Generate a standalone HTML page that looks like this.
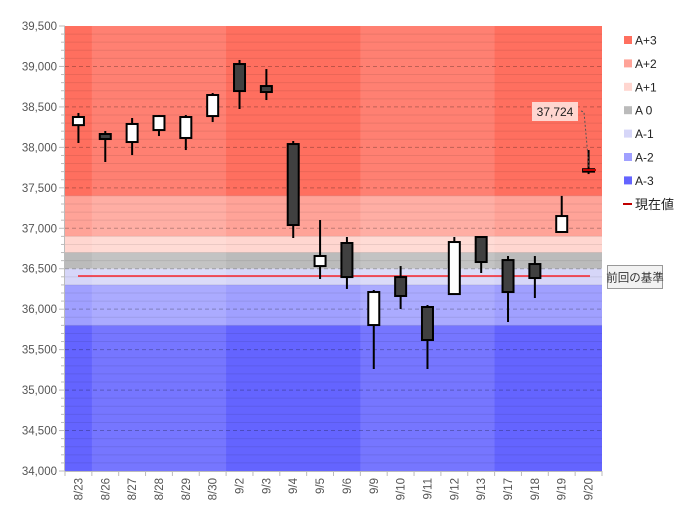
<!DOCTYPE html>
<html><head><meta charset="utf-8"><style>
body{margin:0;background:#fff;font-family:"Liberation Sans","Noto Sans CJK JP",sans-serif;}
svg{display:block}
</style></head><body>
<svg id="s" width="696" height="519" xmlns="http://www.w3.org/2000/svg" font-family="Liberation Sans, Noto Sans CJK JP, sans-serif"></svg>
<script>
const s=document.getElementById('s');
let h='';
const L=65,R=602,T=26,B=471;
const y=v=>T+(39500-v)*(B-T)/5500;
const cw=(R-L)/20;
const bands=[[39500,37400,'#ff6f5f'],[37400,36900,'#ffa398'],[36900,36700,'#ffd6d0'],[36700,36500,'#bbbbbb'],[36500,36300,'#d6d6f8'],[36300,35800,'#a0a0ff'],[35800,34000,'#6464ff']];
bands.forEach(b=>{h+=`<rect x="${L}" y="${y(b[0])}" width="${R-L}" height="${y(b[1])-y(b[0])}" fill="${b[2]}"/>`;});
[[1,6],[11,16]].forEach(g=>{h+=`<rect x="${L+g[0]*cw}" y="${T}" width="${(g[1]-g[0])*cw}" height="${B-T}" fill="#fff" opacity="0.12"/>`;});
for(let v=34100;v<39500;v+=100){if(v%500)h+=`<line x1="${L}" x2="${R}" y1="${y(v)}" y2="${y(v)}" stroke="#000" stroke-opacity="0.08"/>`;}
for(let v=34500;v<39500;v+=500){h+=`<line x1="${L}" x2="${R}" y1="${y(v)}" y2="${y(v)}" stroke="#000" stroke-opacity="0.25" stroke-dasharray="4,3"/>`;}
h+=`<line x1="${L-0.5}" x2="${L-0.5}" y1="${T}" y2="${B}" stroke="#bbb"/><line x1="${L}" x2="${R}" y1="${B+0.5}" y2="${B+0.5}" stroke="#bbb"/>`;
for(let v=34000;v<=39500;v+=100){h+=`<line x1="${L-(v%500?4:6)}" x2="${L}" y1="${y(v)}" y2="${y(v)}" stroke="#bbb"/>`;}
for(let v=34000;v<=39500;v+=500){h+=`<text x="57" y="${y(v)+4}" font-size="11.5" fill="#555" text-anchor="end">${v.toLocaleString('en-US')}</text>`;}
const d=['8/23','8/26','8/27','8/28','8/29','8/30','9/2','9/3','9/4','9/5','9/6','9/9','9/10','9/11','9/12','9/13','9/17','9/18','9/19','9/20'];
for(let i=0;i<=20;i++){h+=`<line x1="${L+i*cw}" x2="${L+i*cw}" y1="${B}" y2="${B+5}" stroke="#bbb"/>`;}
d.forEach((t,i)=>{const cx=L+cw*(i+0.5)+4;h+=`<text transform="translate(${cx},478) rotate(-90)" font-size="11.5" fill="#555" text-anchor="end">${t}</text>`;});
h+=`<line x1="78" x2="590" y1="276" y2="276" stroke="#ff0000" stroke-width="1.3"/>`;
const c=[[38275,38375,38425,38054],[38165,38103,38202,37819],[38066,38289,38363,37905],[38214,38387,38400,38140],[38116,38375,38400,37967],[38387,38647,38672,38313],[39030,38696,39080,38474],[38758,38684,38968,38585],[38041,37040,38078,36880],[36533,36657,37102,36373],[36818,36397,36892,36250],[35804,36212,36237,35260],[36397,36163,36533,36002],[36027,35619,36052,35260],[36187,36830,36892,36187],[36892,36583,36892,36447],[36607,36212,36657,35841],[36558,36385,36657,36138],[36954,37151,37400,36954],[37700,37730,37967,37670]];
c.forEach((k,i)=>{const cx=L+cw*(i+0.5);const up=k[1]>=k[0];
h+=`<line x1="${cx}" x2="${cx}" y1="${y(k[2])}" y2="${y(k[3])}" stroke="#000" stroke-width="2"/>`;
const t=y(Math.max(k[0],k[1])),bb=y(Math.min(k[0],k[1]));
h+=`<rect x="${cx-5.5}" y="${t}" width="11" height="${Math.max(bb-t,2)}" fill="${up?'#fff':'#404040'}" stroke="#000" stroke-width="2"/>`;});
h+=`<line x1="583" x2="596" y1="170" y2="170" stroke="#c00000" stroke-width="2"/>`;
h+=`<rect x="532" y="102" width="46" height="19" fill="#ffd6d0"/><text x="555" y="116" font-size="12" fill="#222" text-anchor="middle">37,724</text>`;
h+=`<path d="M581,111 L584,112 L589,168" stroke="#555" fill="none" stroke-dasharray="2,2"/>`;
const lg=[['A+3','#ff6f5f'],['A+2','#ffa398'],['A+1','#ffd6d0'],['A 0','#bbbbbb'],['A-1','#d6d6f8'],['A-2','#a0a0ff'],['A-3','#6464ff']];
lg.forEach((l,i)=>{const yy=40+i*23.4;h+=`<rect x="624" y="${yy-4}" width="8" height="8" fill="${l[1]}"/><text x="635" y="${yy+4.5}" font-size="12" fill="#222">${l[0]}</text>`;});
h+=`<line x1="623" x2="632" y1="204" y2="204" stroke="#c00000" stroke-width="2"/><text x="635" y="209" font-size="13" fill="#222">現在値</text>`;
h+=`<rect x="607.5" y="265.5" width="55" height="23" fill="#f2f2f2" stroke="#999"/><text x="635" y="281.5" font-size="11.5" fill="#333" text-anchor="middle">前回の基準</text>`;
s.innerHTML=h;
</script>
</body></html>
